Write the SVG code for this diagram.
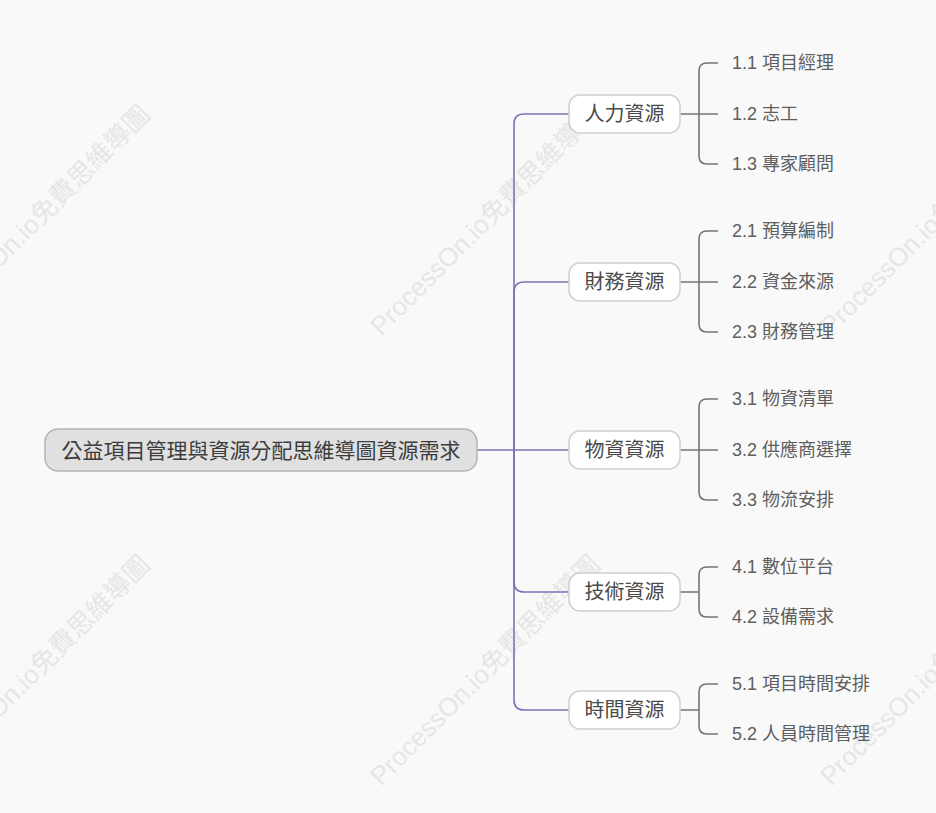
<svg xmlns="http://www.w3.org/2000/svg" width="936" height="813" viewBox="0 0 936 813">
<style>
text{font-family:"Liberation Sans","Noto Sans CJK TC",sans-serif;}
.wm{font-size:26px;fill:#e6e6e6;text-anchor:middle;dominant-baseline:central;}
.root rect{fill:#e0e0e0;stroke:#b4b4b4;stroke-width:1.5;}
.root text{font-size:21px;fill:#3c3c3c;text-anchor:middle;dominant-baseline:central;}
.br rect{fill:#ffffff;stroke:#cfcfcf;stroke-width:1.5;}
.br text{font-size:20px;fill:#4a4a4a;text-anchor:middle;dominant-baseline:central;}
.leaf text{font-size:18px;fill:#5e5e5e;dominant-baseline:central;}
.lc{fill:none;stroke:#7e72b6;stroke-width:1.6;}
.rc{fill:none;stroke:#7a7470;stroke-width:1.6;}
</style>
<rect width="936" height="813" fill="#f9f9f9"/>
<g id="watermarks">
<text class="wm" transform="translate(35,220) rotate(-45)">ProcessOn.io免費思維導圖</text>
<text class="wm" transform="translate(485,220) rotate(-45)">ProcessOn.io免費思維導圖</text>
<text class="wm" transform="translate(935,220) rotate(-45)">ProcessOn.io免費思維導圖</text>
<text class="wm" transform="translate(35,670) rotate(-45)">ProcessOn.io免費思維導圖</text>
<text class="wm" transform="translate(485,670) rotate(-45)">ProcessOn.io免費思維導圖</text>
<text class="wm" transform="translate(935,670) rotate(-45)">ProcessOn.io免費思維導圖</text>
</g>
<g id="connectors">
<path class="lc" d="M477,450 H569"/>
<path class="lc" d="M514,450 V124 Q514,114 524,114 H569"/>
<path class="lc" d="M514,450 V292 Q514,282 524,282 H569"/>
<path class="lc" d="M514,450 V582 Q514,592 524,592 H569"/>
<path class="lc" d="M514,450 V700 Q514,710 524,710 H569"/>
<path class="rc" d="M680,114 H718 M699,114 V71 Q699,63 707,63 H718 M699,114 V156 Q699,164 707,164 H718"/>
<path class="rc" d="M680,282 H718 M699,282 V239 Q699,231 707,231 H718 M699,282 V324 Q699,332 707,332 H718"/>
<path class="rc" d="M680,450 H718 M699,450 V407 Q699,399 707,399 H718 M699,450 V492 Q699,500 707,500 H718"/>
<path class="rc" d="M680,592 H699 M699,592 V575 Q699,567 707,567 H718 M699,592 V609 Q699,617 707,617 H718"/>
<path class="rc" d="M680,710 H699 M699,710 V692 Q699,684 707,684 H718 M699,710 V726 Q699,734 707,734 H718"/>
</g>
<g id="root" class="root"><rect x="45" y="429" width="432" height="42" rx="13"/><text x="261" y="450">公益項目管理與資源分配思維導圖資源需求</text></g>
<g id="b1" class="br"><rect x="569" y="95" width="111" height="38" rx="11"/><text x="624.5" y="114">人力資源</text></g>
<g id="b2" class="br"><rect x="569" y="263" width="111" height="38" rx="11"/><text x="624.5" y="282">財務資源</text></g>
<g id="b3" class="br"><rect x="569" y="431" width="111" height="38" rx="11"/><text x="624.5" y="450">物資資源</text></g>
<g id="b4" class="br"><rect x="569" y="573" width="111" height="38" rx="11"/><text x="624.5" y="592">技術資源</text></g>
<g id="b5" class="br"><rect x="569" y="691" width="111" height="38" rx="11"/><text x="624.5" y="710">時間資源</text></g>
<g id="l11" class="leaf"><text x="732" y="63">1.1 項目經理</text></g>
<g id="l12" class="leaf"><text x="732" y="114">1.2 志工</text></g>
<g id="l13" class="leaf"><text x="732" y="164">1.3 專家顧問</text></g>
<g id="l21" class="leaf"><text x="732" y="231">2.1 預算編制</text></g>
<g id="l22" class="leaf"><text x="732" y="282">2.2 資金來源</text></g>
<g id="l23" class="leaf"><text x="732" y="332">2.3 財務管理</text></g>
<g id="l31" class="leaf"><text x="732" y="399">3.1 物資清單</text></g>
<g id="l32" class="leaf"><text x="732" y="450">3.2 供應商選擇</text></g>
<g id="l33" class="leaf"><text x="732" y="500">3.3 物流安排</text></g>
<g id="l41" class="leaf"><text x="732" y="567">4.1 數位平台</text></g>
<g id="l42" class="leaf"><text x="732" y="617">4.2 設備需求</text></g>
<g id="l51" class="leaf"><text x="732" y="684">5.1 項目時間安排</text></g>
<g id="l52" class="leaf"><text x="732" y="734">5.2 人員時間管理</text></g>
</svg>
